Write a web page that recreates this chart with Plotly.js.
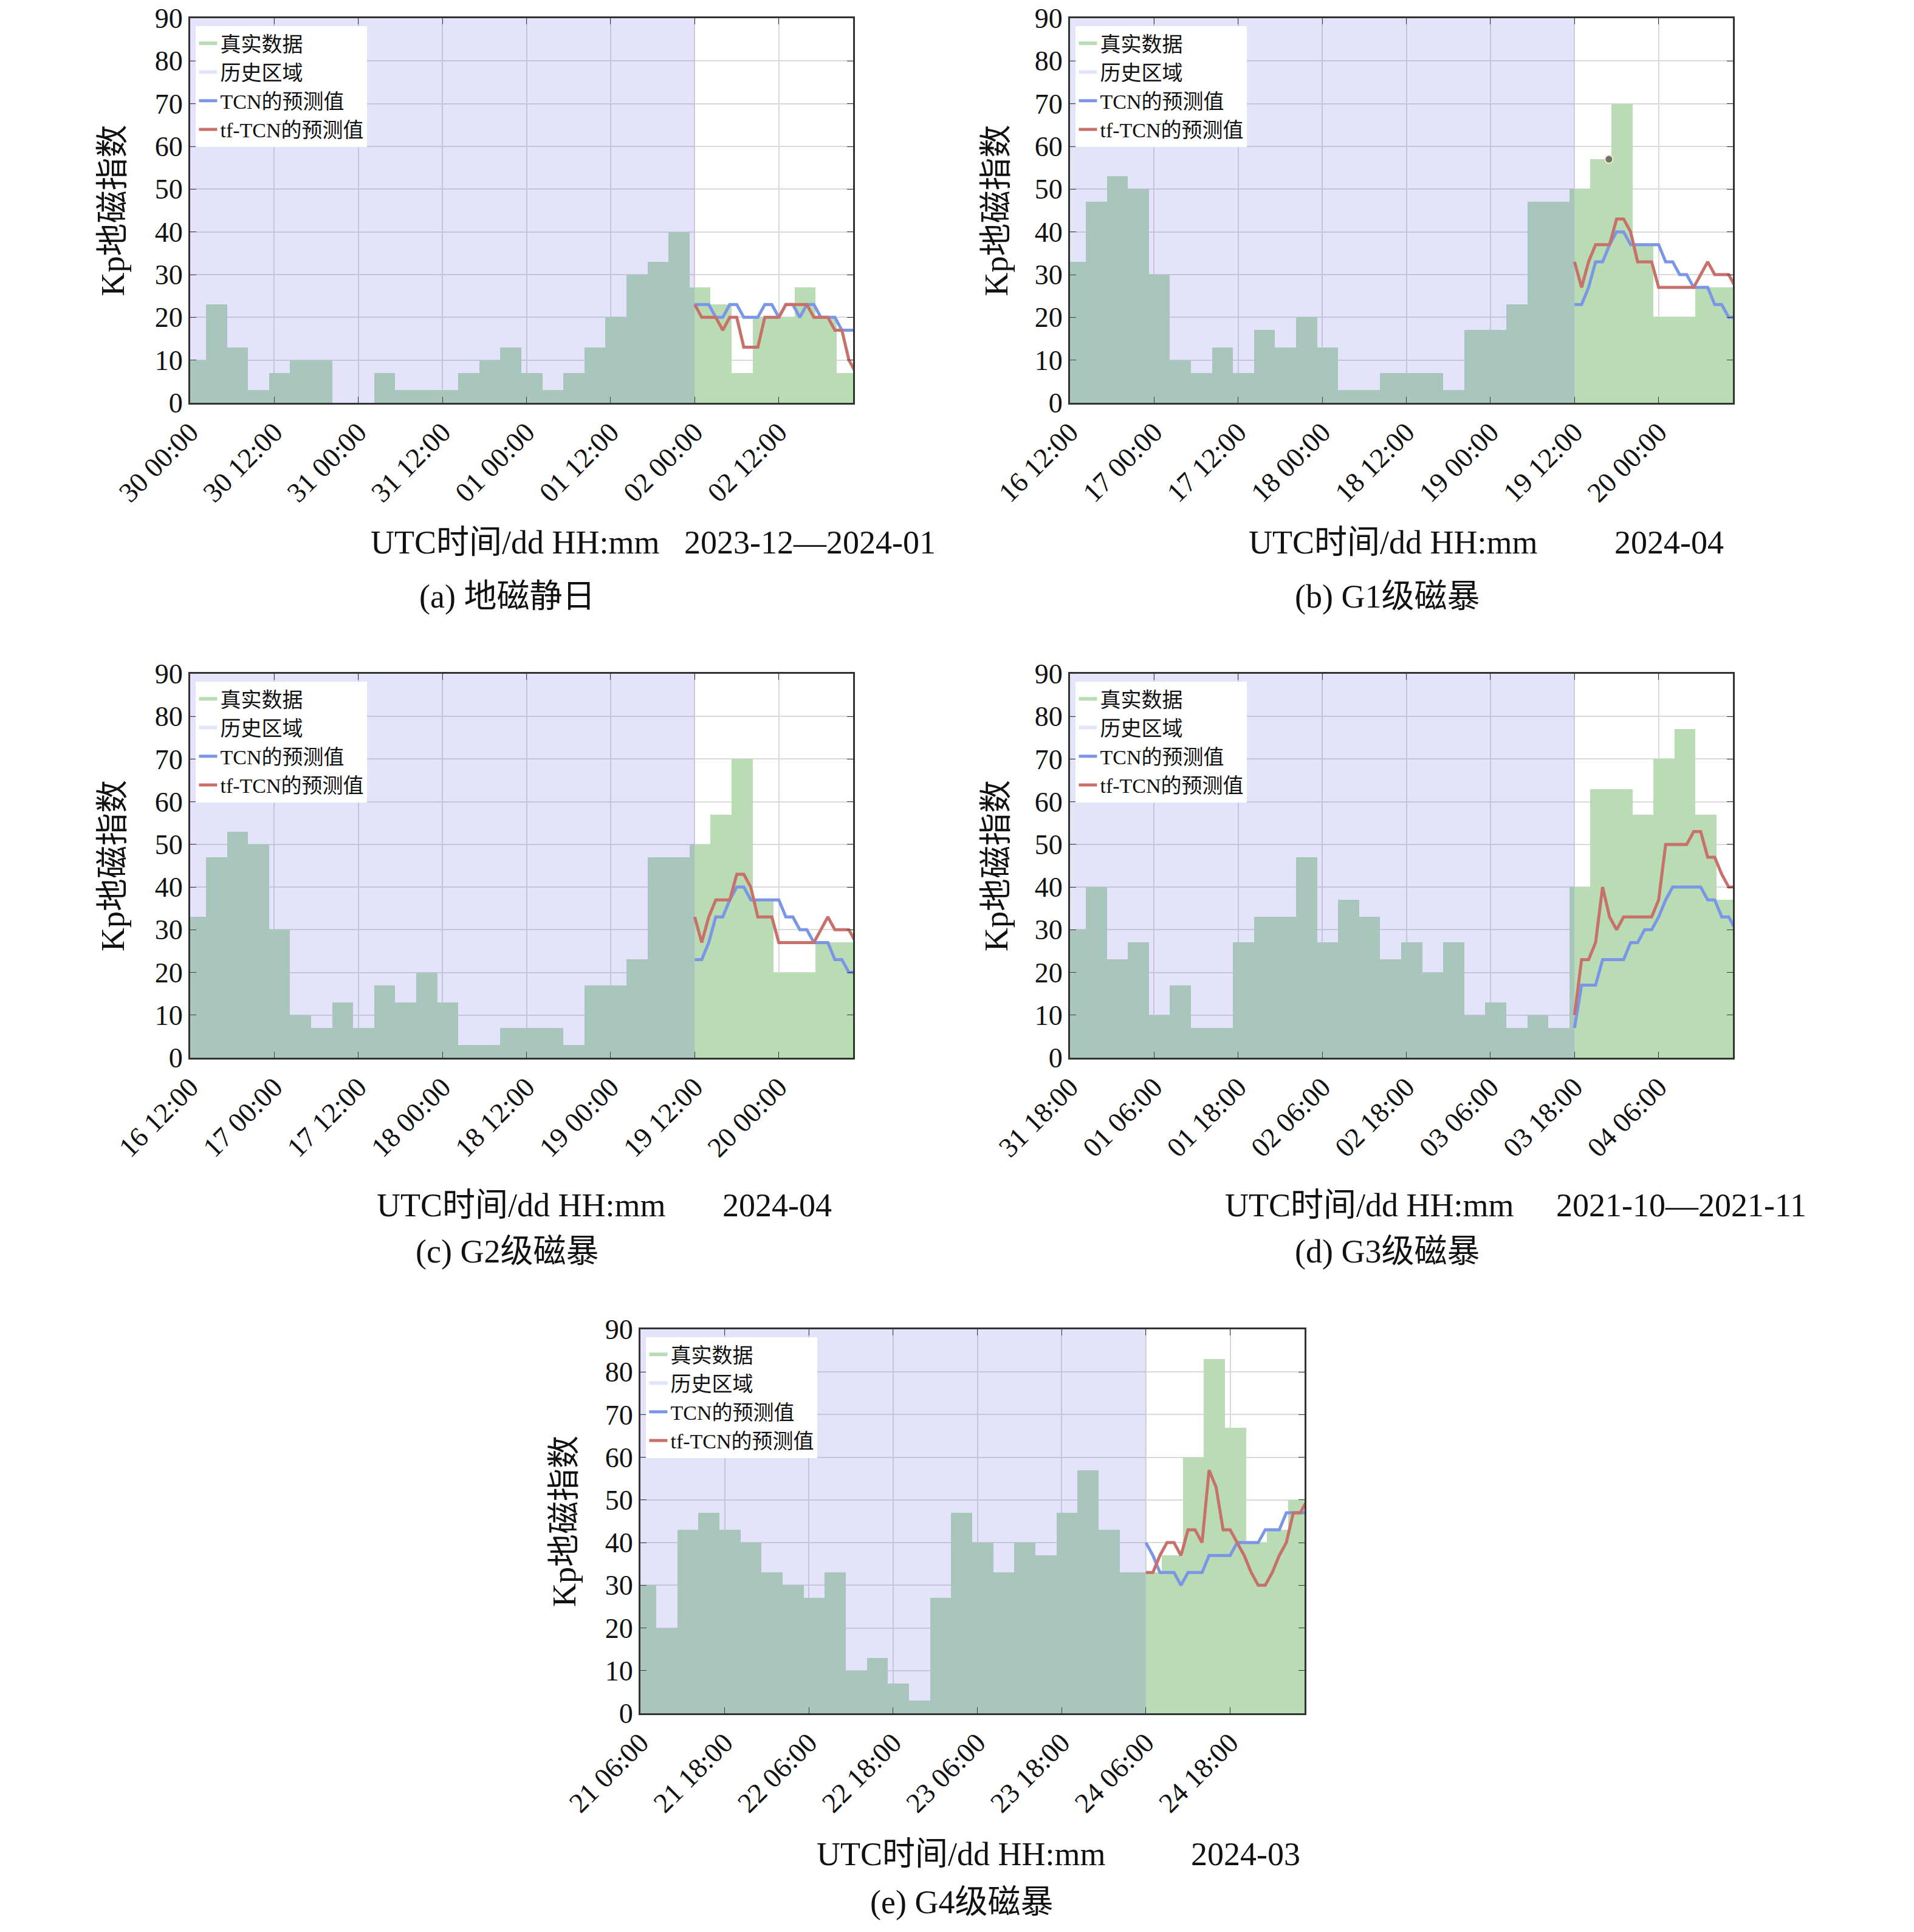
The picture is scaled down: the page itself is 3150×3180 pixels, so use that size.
<!DOCTYPE html>
<html>
<head>
<meta charset="utf-8">
<script src="https://cdn.plot.ly/plotly-3.0.1.min.js"></script>
<style>body{margin:0;background:#fff}#chart{width:3150px;height:3180px}</style>
</head>
<body>
<div id="chart"></div>
<script>
// 3-hourly Kp (x10), 32 bars each: 24 history + 8 forecast window
const kpQuiet = [10,23,13,3,7,10,10,0,0,7,3,3,3,7,10,13,7,3,7,13,20,30,33,40, 27,23,7,20,20,27,20,7];
const kpG1 = [33,47,53,50,30,10,7,13,7,17,13,20,13,3,3,7,7,7,3,17,17,23,47,47, 50,57,70,37,20,20,27,27];
const kpG2 = [33,47,53,50,30,10,7,13,7,17,13,20,13,3,3,7,7,7,3,17,17,23,47,47, 50,57,70,37,20,20,27,27];
const kpG3 = [30,40,23,27,10,17,7,7,27,33,33,47,27,37,33,23,27,20,27,10,13,7,10,7, 40,63,63,57,70,77,57,37];
const kpG4 = [30,20,43,47,43,40,33,30,27,33,10,13,7,3,27,47,40,33,40,37,47,57,43,33, 33,37,60,83,67,40,43,50];

// hourly predictions from hour 72 to 95
const tcnQuiet = [23,23,23,20,20,23,23,20,20,20,23,23,20,23,23,20,23,23,20,20,20,17,17,17];
const tftcnQuiet = [23,20,20,20,17,20,20,13,13,13,20,20,20,23,23,23,23,20,20,20,17,17,10,7];
const tcnG1 = [23,23,27,33,33,37,40,40,37,37,37,37,37,33,33,30,30,27,27,27,23,23,20,20];
const tftcnG1 = [33,27,33,37,37,37,43,43,40,33,33,33,27,27,27,27,27,27,30,33,30,30,30,27];
const tcnG3 = [7,17,17,17,23,23,23,23,27,27,30,30,33,37,40,40,40,40,40,37,37,33,33,30];
const tftcnG3 = [10,23,23,27,40,33,30,33,33,33,33,33,37,50,50,50,50,53,53,47,47,43,40,40];
const tcnG4 = [40,37,33,33,33,30,33,33,33,37,37,37,37,40,40,40,40,43,43,43,47,47,47,47];
const tftcnG4 = [33,33,37,40,40,37,43,43,40,57,53,43,43,40,37,33,30,30,33,37,40,47,47,50];

const ticksQuiet = ['30 00:00','30 12:00','31 00:00','31 12:00','01 00:00','01 12:00','02 00:00','02 12:00'];
const ticksApr = ['16 12:00','17 00:00','17 12:00','18 00:00','18 12:00','19 00:00','19 12:00','20 00:00'];
const ticksOct = ['31 18:00','01 06:00','01 18:00','02 06:00','02 18:00','03 06:00','03 18:00','04 06:00'];
const ticksMar = ['21 06:00','21 18:00','22 06:00','22 18:00','23 06:00','23 18:00','24 06:00','24 18:00'];

const W = 3150, H = 3180;
const FONT = '"Liberation Serif", "Noto Sans CJK SC", serif';
const GREEN = '#b9dcb4', BLUE = '#7b96e6', RED = '#c8706a', LAV = '#e3e3fb';

const panels = [
  {kp: kpQuiet, tcn: tcnQuiet, tf: tftcnQuiet, ticks: ticksQuiet, box: [313, 1404, 30, 663],
   date: '2023-12—2024-01', utcX: 848, dateX: 1333, titleY: 893, cap: '(a) 地磁静日', capX: 834, capY: 982, ylabX: 186},
  {kp: kpG1, tcn: tcnG1, tf: tftcnG1, ticks: ticksApr, box: [1761, 2852, 30, 663], dot: true,
   date: '2024-04', utcX: 2293, dateX: 2747, titleY: 893, cap: '(b) G1级磁暴', capX: 2283, capY: 982, ylabX: 1640},
  {kp: kpG2, tcn: tcnG1, tf: tftcnG1, ticks: ticksApr, box: [313, 1404, 1109, 1741],
   date: '2024-04', utcX: 858, dateX: 1279, titleY: 1984, cap: '(c) G2级磁暴', capX: 834, capY: 2060, ylabX: 186},
  {kp: kpG3, tcn: tcnG3, tf: tftcnG3, ticks: ticksOct, box: [1761, 2852, 1109, 1741],
   date: '2021-10—2021-11', utcX: 2254, dateX: 2767, titleY: 1984, cap: '(d) G3级磁暴', capX: 2283, capY: 2060, ylabX: 1640},
  {kp: kpG4, tcn: tcnG4, tf: tftcnG4, ticks: ticksMar, box: [1054, 2147, 2188, 2820],
   date: '2024-03', utcX: 1582, dateX: 2050, titleY: 3052, cap: '(e) G4级磁暴', capX: 1582, capY: 3131, ylabX: 929}
];

const traces = [];
const layout = {
  width: W, height: H, margin: {l: 0, r: 0, t: 0, b: 0},
  paper_bgcolor: 'white', plot_bgcolor: 'white',
  font: {family: FONT, size: 46, color: '#111'},
  bargap: 0, shapes: [], annotations: []
};

panels.forEach((p, i) => {
  const n = i === 0 ? '' : String(i + 1);
  const xa = 'x' + n, ya = 'y' + n, lg = 'legend' + n;
  const [x0, x1, y0, y1] = p.box;
  const predX = p.tcn.map((_, k) => 72 + k);

  traces.push({type: 'bar', x: p.kp.map((_, k) => 3 * k + 0.75), y: p.kp, width: 3, showlegend: false,
    marker: {color: GREEN, line: {width: 0}}, xaxis: xa, yaxis: ya});
  // legend-only swatches (drawn outside the visible x range)
  traces.push({type: 'scatter', mode: 'none', x: [-9, -8, -8], y: [0, 0, 1], fill: 'toself', fillcolor: GREEN,
    name: '真实数据', xaxis: xa, yaxis: ya, legend: lg, hoverinfo: 'skip'});
  traces.push({type: 'scatter', mode: 'none', x: [-9, -8, -8], y: [0, 0, 1], fill: 'toself', fillcolor: LAV,
    name: '历史区域', xaxis: xa, yaxis: ya, legend: lg, hoverinfo: 'skip'});
  traces.push({type: 'scatter', mode: 'lines', x: predX, y: p.tcn, line: {color: BLUE, width: 5},
    name: 'TCN的预测值', xaxis: xa, yaxis: ya, legend: lg});
  traces.push({type: 'scatter', mode: 'lines', x: predX, y: p.tf, line: {color: RED, width: 5},
    name: 'tf-TCN的预测值', xaxis: xa, yaxis: ya, legend: lg});
  if (p.dot) {
    traces.push({type: 'scatter', mode: 'markers', x: [76.9], y: [57], showlegend: false,
      marker: {color: '#6f6f6f', size: 13, line: {color: '#f3e9c8', width: 2}}, xaxis: xa, yaxis: ya});
  }

  const axis = {showline: true, linecolor: '#333', linewidth: 3, mirror: 'allticks', ticks: 'inside',
    ticklen: 10, tickcolor: '#333', showgrid: true, gridcolor: '#dadada', gridwidth: 2, zeroline: false};
  layout['xaxis' + n] = Object.assign({}, axis, {domain: [x0 / W, x1 / W], anchor: ya, range: [0, 94.6],
    tickvals: p.ticks.map((_, k) => 12 * k), ticktext: p.ticks, tickangle: -45, tickfont: {size: 46}});
  layout['yaxis' + n] = Object.assign({}, axis, {domain: [1 - y1 / H, 1 - y0 / H], anchor: xa, range: [0, 90],
    dtick: 10, tickfont: {size: 46}});
  layout[lg] = {x: x0 / W + 0.003, y: 1 - y0 / H - 0.004, xanchor: 'left', yanchor: 'top', bgcolor: 'white',
    font: {size: 34, family: FONT}, tracegroupgap: 0, traceorder: 'normal'};

  // history window overlay
  layout.shapes.push({type: 'rect', xref: xa, yref: ya, x0: -1, x1: 72, y0: 0, y1: 90, layer: 'above',
    fillcolor: 'rgba(100,100,230,0.18)', line: {width: 0}});

  const ann = (x, y, text, extra) => layout.annotations.push(Object.assign({xref: 'paper', yref: 'paper',
    x: x / W, y: 1 - y / H, xanchor: 'center', yanchor: 'middle', text: text, showarrow: false,
    font: {size: 54, family: FONT}}, extra || {}));
  ann(p.utcX, p.titleY, 'UTC时间/dd HH:mm');
  ann(p.dateX, p.titleY, p.date);
  ann(p.capX, p.capY, p.cap);
  ann(p.ylabX, (y0 + y1) / 2, 'Kp地磁指数', {textangle: -90});
});

Plotly.newPlot('chart', traces, layout, {displayModeBar: false, staticPlot: true});
</script>
</body>
</html>
